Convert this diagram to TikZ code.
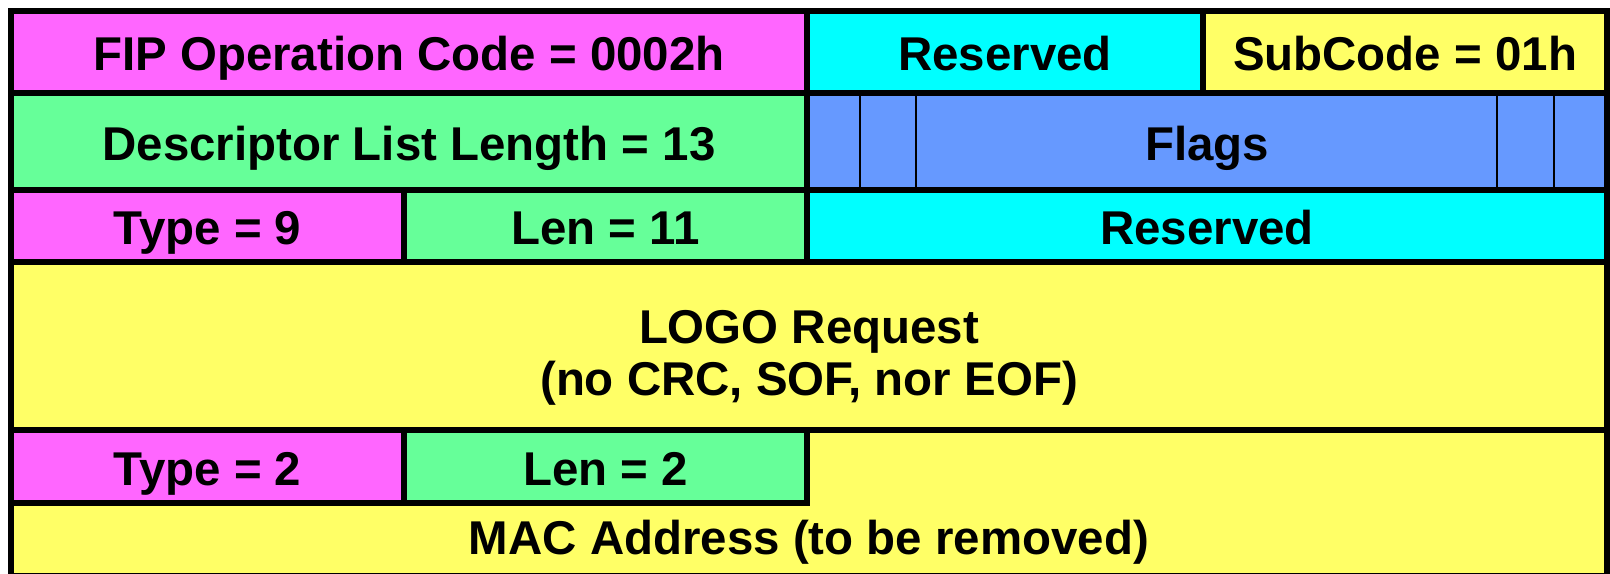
\documentclass[tikz,border=0pt]{standalone}
\usepackage{fontspec}
\setmainfont{Liberation Sans}
\definecolor{fipmagenta}{RGB}{255,102,255}
\definecolor{fipgreen}{RGB}{102,255,153}
\definecolor{fipcyan}{RGB}{0,255,255}
\definecolor{fipyellow}{RGB}{255,255,102}
\definecolor{fipblue}{RGB}{102,153,255}
\tikzset{
  field/.style={draw, line width=0.11cm, inner sep=0pt,
    text height=21.6pt, text depth=0pt,
    font=\bfseries\fontsize{27}{30}\selectfont},
  blockfield/.style={draw, line width=0.11cm, inner sep=0pt, align=center,
    font=\bfseries\fontsize{27}{30}\selectfont},
  label/.style={inner sep=0pt, text height=21.6pt, text depth=0pt,
    font=\bfseries\fontsize{27}{30}\selectfont},
  flagbit/.style={line width=0.055cm},
}
\begin{document}
\begin{tikzpicture}[x=0.02cm, y=-0.02cm]
    \useasboundingbox (0,0) rectangle (1610,574);
    % first word
    \node[field, fill=fipmagenta, minimum width=15.92cm, minimum height=1.64cm] (opcode) at (409,52) {FIP Operation Code = 0002h};
    \node[field, fill=fipcyan, minimum width=7.92cm, minimum height=1.64cm] (rsvdA) at (1005,52) {Reserved};
    \node[field, fill=fipyellow, minimum width=8.08cm, minimum height=1.64cm] (subcode) at (1405,52) {SubCode = 01h};
    % second word
    \node[field, fill=fipgreen, minimum width=15.92cm, minimum height=1.94cm] (desclen) at (409,141.5) {Descriptor List Length = 13};
    \node[field, fill=fipblue, minimum width=16cm, minimum height=1.94cm] (flags) at (1207,141.5) {Flags};
    \foreach \x in {860,916,1497,1554}
      \draw[flagbit] (\x,93) -- (\x,190);
    % descriptor 9
    \node[field, fill=fipmagenta, minimum width=7.86cm, minimum height=1.44cm] (typeA) at (207.5,226) {Type = 9};
    \node[field, fill=fipgreen, minimum width=8.06cm, minimum height=1.44cm] (lenA) at (605.5,226) {Len = 11};
    \node[field, fill=fipcyan, minimum width=16cm, minimum height=1.44cm] (rsvdB) at (1207,226) {Reserved};
    \node[blockfield, fill=fipyellow, minimum width=31.92cm, minimum height=3.36cm] (logo) at (809,346) {};
    \node[align=center, inner sep=0pt, font=\bfseries\fontsize{27}{30}\selectfont] (logotext) at (809,358) {LOGO Request\\(no CRC, SOF, nor EOF)};
    % descriptor 2
    \node[field, fill=fipyellow, minimum width=31.92cm, minimum height=2.92cm] (tail) at (809,503) {};
    \node[field, fill=fipmagenta, minimum width=7.86cm, minimum height=1.46cm] (typeB) at (207.5,466.5) {Type = 2};
    \node[field, fill=fipgreen, minimum width=8.06cm, minimum height=1.46cm] (lenB) at (605.5,466.5) {Len = 2};
    \node[label] (mac) at (809,536) {MAC Address (to be removed)};
\end{tikzpicture}
\end{document}
